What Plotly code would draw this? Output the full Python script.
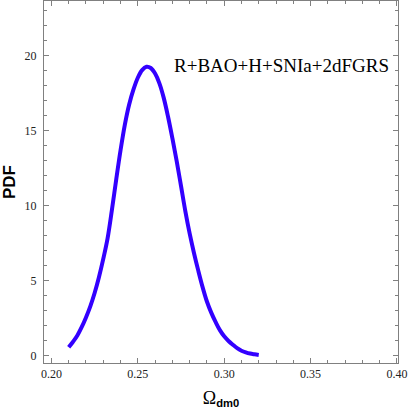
import plotly.graph_objects as go

# values (every 0.0025 in Omega_dm0)
omega_dm0 = [0.2100, 0.2125, 0.2150, 0.2175, 0.2200, 0.2225, 0.2250, 0.2275,
             0.2300, 0.2325, 0.2350, 0.2375, 0.2400, 0.2425, 0.2450, 0.2475,
             0.2500, 0.2525, 0.2550, 0.2575, 0.2600, 0.2625, 0.2650, 0.2675,
             0.2700, 0.2725, 0.2750, 0.2775, 0.2800, 0.2825, 0.2850, 0.2875,
             0.2900, 0.2925, 0.2950, 0.2975, 0.3000, 0.3025, 0.3050, 0.3075,
             0.3100, 0.3125, 0.3150, 0.3175, 0.3200]
pdf = [0.56, 0.93, 1.35, 1.90, 2.55, 3.29, 4.18, 5.23,
       6.45, 7.82, 9.71, 11.75, 13.70, 15.41, 16.75, 17.75,
       18.53, 19.04, 19.26, 19.18, 18.81, 18.16, 17.19, 15.93,
       14.50, 12.98, 11.32, 9.64, 8.15, 6.85, 5.67, 4.57,
       3.61, 2.87, 2.25, 1.70, 1.29, 0.98, 0.73, 0.50,
       0.33, 0.22, 0.14, 0.09, 0.05]

x_ticks = [0.20, 0.25, 0.30, 0.35, 0.40]
x_labels = ["0.20", "0.25", "0.30", "0.35", "0.40"]
y_ticks = [0, 5, 10, 15, 20]

label = "R+BAO+H+SNIa+2dFGRS"

frame = "#808080"
serif = "Liberation Serif"

fig = go.Figure()

fig.add_trace(go.Scatter(
    x=omega_dm0,
    y=pdf,
    mode='lines',
    line=dict(color='rgb(51,0,255)', width=4, shape='spline', smoothing=1.0),
    showlegend=False,
))

fig.add_annotation(
    x=0.2700, y=19.35, xref='x', yref='y',
    text=label, showarrow=False,
    xanchor='left', yanchor='middle',
    font=dict(family=serif, size=19, color='black'),
)

axis_common = dict(
    showgrid=False, zeroline=False,
    showline=True, linecolor=frame, linewidth=1, mirror='ticks',
    ticks='inside', tickcolor=frame, ticklen=5, tickwidth=1,
    tickfont=dict(family=serif, size=12, color='#222222'),
)

fig.update_xaxes(
    range=[0.1957, 0.4006],
    tickvals=x_ticks, ticktext=x_labels,
    minor=dict(dtick=0.01, tick0=0.2, ticks='inside', ticklen=3, tickcolor=frame),
    title=dict(
        text="<span style='font-family:Liberation Serif;font-size:18px'>Ω</span>"
             "<sub><b>dm0</b></sub>",
        font=dict(family='Liberation Sans', size=16, color='black'),
        standoff=12,
    ),
    **axis_common,
)

fig.update_yaxes(
    range=[-0.49, 23.65],
    tickvals=y_ticks,
    ticklabelstandoff=4,
    minor=dict(dtick=1, tick0=0, ticks='inside', ticklen=3, tickcolor=frame),
    title=dict(
        text="<b>PDF</b>",
        font=dict(family='Liberation Sans', size=17, color='black'),
        standoff=10,
    ),
    **axis_common,
)

fig.update_layout(
    width=409, height=409,
    margin=dict(l=44, r=11, t=1, b=46),
    plot_bgcolor='white', paper_bgcolor='white',
)

# drop the browser's default page margin so the figure sits at the top-left
fig.write_html("out.html", config={'displayModeBar': False},
               post_script="document.body.style.margin='0';")
